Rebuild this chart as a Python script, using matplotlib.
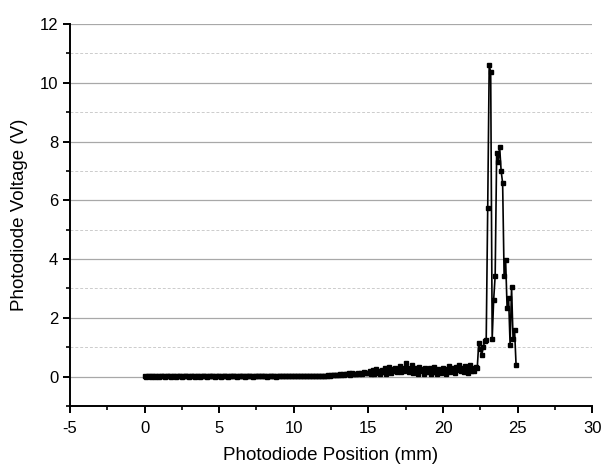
import numpy as np
import matplotlib
matplotlib.use("Agg")
import matplotlib.pyplot as plt
from matplotlib.ticker import MultipleLocator

plt.rcParams["font.family"] = ["Liberation Sans", "DejaVu Sans"]
plt.rcParams["axes.unicode_minus"] = False

# scan grid: photodiode position in mm, 0.1 mm steps
step_mm = 0.1

# photodiode voltage (V)
v_flat = [
    0.01, 0.00, 0.01, 0.02, 0.00, 0.01, 0.01, 0.00, 0.02, 0.01,
    0.00, 0.01, 0.02, 0.01, 0.00, 0.01, 0.01, 0.02, 0.00, 0.01,
    0.01, 0.00, 0.01, 0.02, 0.01, 0.00, 0.01, 0.02, 0.01, 0.01,
    0.00, 0.02, 0.01, 0.01, 0.00, 0.02, 0.01, 0.00, 0.01, 0.02,
    0.01, 0.01, 0.00, 0.02, 0.01, 0.01, 0.02, 0.00, 0.01, 0.02,
    0.01, 0.00, 0.02, 0.01, 0.01, 0.02, 0.00, 0.01, 0.02, 0.01,
    0.02, 0.01, 0.00, 0.02, 0.01, 0.02, 0.01, 0.00, 0.02, 0.01,
    0.01, 0.02, 0.01, 0.00, 0.02, 0.01, 0.02, 0.01, 0.01, 0.02,
    0.01, 0.02, 0.00, 0.01, 0.02, 0.01, 0.02, 0.01, 0.00, 0.02,
    0.02, 0.01, 0.02, 0.01, 0.01, 0.02, 0.01, 0.03, 0.01, 0.02,
    0.01, 0.02, 0.02, 0.01, 0.03, 0.02, 0.01, 0.02, 0.03, 0.01,
    0.02, 0.03, 0.02, 0.01, 0.03, 0.02, 0.02, 0.03, 0.01, 0.02,
]
v_rise = [
    0.02, 0.03, 0.02, 0.04, 0.03, 0.05, 0.04, 0.06, 0.05, 0.07,
    0.06, 0.08, 0.07, 0.09, 0.06, 0.10, 0.08, 0.11, 0.07, 0.12,
    0.09, 0.10, 0.08, 0.13, 0.10, 0.12, 0.09, 0.14, 0.11, 0.13,
]
v_noise = [
    0.12, 0.18, 0.08, 0.22, 0.10, 0.25, 0.12, 0.20, 0.09, 0.24,
    0.15, 0.28, 0.10, 0.20, 0.32, 0.12, 0.25, 0.18, 0.30, 0.14,
    0.22, 0.35, 0.16, 0.28, 0.20, 0.45, 0.30, 0.15, 0.27, 0.38,
    0.12, 0.30, 0.22, 0.10, 0.32, 0.18, 0.25, 0.08, 0.30, 0.20,
    0.14, 0.28, 0.10, 0.24, 0.33, 0.16, 0.08, 0.26, 0.20, 0.12,
    0.30, 0.18, 0.10, 0.25, 0.35, 0.15, 0.28, 0.20, 0.12, 0.32,
    0.22, 0.40, 0.18, 0.30, 0.15, 0.35, 0.25, 0.12, 0.38, 0.20,
    0.28, 0.18, 0.32,
]
v_peak = [
    0.30, 1.15, 0.95, 0.75, 1.00, 1.20, 1.26, 5.74, 10.60, 10.36,
    1.28, 2.62, 3.43, 7.60, 7.30, 7.81, 7.00, 6.59, 3.41, 3.98,
    2.34, 2.69, 1.09, 3.04, 1.27, 1.58, 0.41,
]

voltage = np.array(v_flat + v_rise + v_noise + v_peak)
position = np.arange(len(voltage)) * step_mm

fig = plt.figure(figsize=(6.03, 4.68), dpi=100)
ax = fig.add_axes([0.116, 0.1325, 0.866, 0.8162])

ax.plot(position, voltage, color="black", lw=1.2, marker="s", ms=3.2,
        mfc="black", mec="black", zorder=3)

ax.set_xlim(-5, 30)
ax.set_ylim(-1, 12)
ax.xaxis.set_major_locator(MultipleLocator(5))
ax.xaxis.set_minor_locator(MultipleLocator(2.5))
ax.yaxis.set_major_locator(MultipleLocator(2))
ax.yaxis.set_minor_locator(MultipleLocator(1))

ax.grid(axis="y", which="major", color="#a8a8a8", lw=0.9, ls="-", zorder=0)
ax.grid(axis="y", which="minor", color="#cccccc", lw=0.7, ls=(0, (3, 2)),
        zorder=0)

for s in ("top", "right"):
    ax.spines[s].set_visible(False)
for s in ("left", "bottom"):
    ax.spines[s].set_linewidth(1.4)

ax.tick_params(which="major", direction="out", length=5, width=1.4,
               labelsize=12)
ax.tick_params(which="minor", direction="out", length=3, width=1.2)
ax.tick_params(axis="x", pad=6)

ax.set_xlabel("Photodiode Position (mm)", fontsize=13.5, labelpad=8)
ax.set_ylabel("Photodiode Voltage (V)", fontsize=13.5, labelpad=8)

fig.savefig("out.png", dpi=100)
